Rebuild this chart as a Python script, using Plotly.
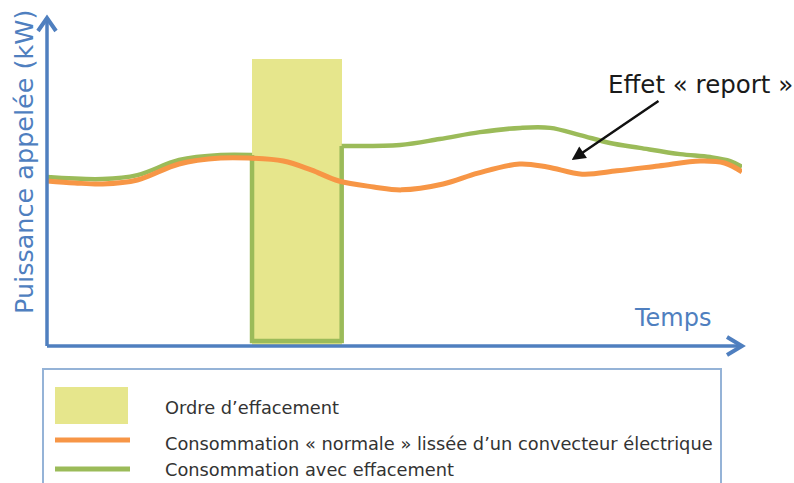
import plotly.graph_objects as go

# --- Données (temps et puissance en unités relatives 0-100) ---
temps_normal = [0, 4, 8, 13, 19, 25, 29, 34, 38, 42, 47, 51, 57, 62, 68, 72, 77, 82, 88, 94, 97.5, 100]
puissance_normale = [50.3, 49.7, 49.4, 50.6, 55.5, 57.3, 57.3, 56.4, 53.7, 50.3, 48.5, 47.6,
                     49.4, 52.7, 55.5, 54.6, 52.4, 53.4, 54.9, 56.4, 55.8, 53.1]

temps_avant = [0, 8, 13, 19, 25, 29.5]
puissance_avant = [51.5, 50.9, 52.1, 56.7, 58.2, 58.2]

effacement_debut = 29.5
effacement_fin = 42.4
effacement_hauteur = 87.5
puissance_effacee = 1.5
puissance_reprise = 61.0

temps_apres = [42.4, 50.8, 56.5, 62.3, 68.1, 72.4, 76.7, 81, 85.3, 91.1, 95.4, 98.3, 100]
puissance_apres = [61.0, 61.3, 63.1, 65.2, 66.5, 66.5, 64.3, 61.9, 60.4, 58.5, 57.6, 56.4, 54.6]

# point visé par la flèche « report » et départ de la flèche
report_cible = (75.5, 56.7)
report_origine = (88.2, 75.0)

legende_textes = [
    "Ordre d\u2019effacement",
    "Consommation \u00ab normale \u00bb liss\u00e9e d\u2019un convecteur \u00e9lectrique",
    "Consommation avec effacement",
]

# --- Styles ---
BLEU = "#4f7fbf"
ORANGE = "#f79646"
VERT = "#9bbb59"
JAUNE = "#e6e68c"
POLICE = "DejaVu Sans"

fig = go.Figure()

# Ordre d'effacement (rectangle jaune)
fig.add_trace(go.Bar(
    x=[(effacement_debut + effacement_fin) / 2], y=[effacement_hauteur],
    width=[effacement_fin - effacement_debut],
    marker=dict(color=JAUNE, line=dict(width=0)), showlegend=False, hoverinfo="skip",
))

# Consommation avec effacement
fig.add_trace(go.Scatter(
    x=temps_avant, y=puissance_avant, mode="lines",
    line=dict(color=VERT, width=4.5, shape="spline", smoothing=1), showlegend=False,
))
fig.add_trace(go.Scatter(
    x=[effacement_debut, effacement_debut, effacement_fin, effacement_fin],
    y=[puissance_avant[-1], puissance_effacee, puissance_effacee, puissance_reprise],
    mode="lines", line=dict(color=VERT, width=4.5), showlegend=False,
))
fig.add_trace(go.Scatter(
    x=temps_apres, y=puissance_apres, mode="lines",
    line=dict(color=VERT, width=4.5, shape="spline", smoothing=1), showlegend=False,
))

# Consommation « normale »
fig.add_trace(go.Scatter(
    x=temps_normal, y=puissance_normale, mode="lines",
    line=dict(color=ORANGE, width=5, shape="spline", smoothing=1), showlegend=False,
))

# --- Axes fléchés ---
W_PLOT, H_PLOT = 695, 328
shapes = [
    dict(type="line", xref="paper", yref="paper", x0=0, y0=0, x1=0, y1=1,
         line=dict(color=BLEU, width=3.5)),
    dict(type="line", xref="paper", yref="paper", x0=0, y0=0, x1=1, y1=0,
         line=dict(color=BLEU, width=3.5)),
    dict(type="path", xref="paper", yref="paper",
         path=f"M {-9 / W_PLOT},{1 - 13 / H_PLOT} L 0,1 L {9 / W_PLOT},{1 - 13 / H_PLOT}",
         line=dict(color=BLEU, width=4)),
    dict(type="path", xref="paper", yref="paper",
         path=f"M {1 - 15 / W_PLOT},{9 / H_PLOT} L 1,0 L {1 - 15 / W_PLOT},{-9 / H_PLOT}",
         line=dict(color=BLEU, width=4)),
]


def px_x(px):
    return (px - 47) / W_PLOT


def px_y(py):
    return (346 - py) / H_PLOT


# --- Cadre de légende ---
shapes += [
    dict(type="rect", xref="paper", yref="paper", x0=px_x(43), x1=px_x(721),
         y0=px_y(495), y1=px_y(369), line=dict(color="#95b3d7", width=2), fillcolor="white",
         layer="below"),
    dict(type="rect", xref="paper", yref="paper", x0=px_x(55), x1=px_x(128),
         y0=px_y(424), y1=px_y(387), line=dict(width=0), fillcolor=JAUNE),
    dict(type="line", xref="paper", yref="paper", x0=px_x(55), x1=px_x(130),
         y0=px_y(440), y1=px_y(440), line=dict(color=ORANGE, width=5)),
    dict(type="line", xref="paper", yref="paper", x0=px_x(55), x1=px_x(130),
         y0=px_y(469), y1=px_y(469), line=dict(color=VERT, width=5)),
]

annotations = [
    # titres des axes
    dict(text="Puissance appel\u00e9e (kW)", xref="paper", yref="paper",
         x=px_x(24), y=px_y(162), textangle=-90, showarrow=False,
         xanchor="center", yanchor="middle", font=dict(family=POLICE, size=25.5, color=BLEU)),
    dict(text="Temps", xref="paper", yref="paper", x=px_x(672), y=px_y(318),
         showarrow=False, xanchor="center", yanchor="middle",
         font=dict(family=POLICE, size=24, color=BLEU)),
    # effet report
    dict(x=report_cible[0], y=report_cible[1], ax=report_origine[0], ay=report_origine[1],
         xref="x", yref="y", axref="x", ayref="y", text="", showarrow=True,
         arrowhead=2, arrowsize=1.1, arrowwidth=2.5, arrowcolor="#111111"),
    dict(text="Effet \u00ab report \u00bb", xref="paper", yref="paper",
         x=px_x(700), y=px_y(85), showarrow=False, xanchor="center", yanchor="middle",
         font=dict(family=POLICE, size=24.5, color="#1a1a1a")),
]

for texte, py in zip(legende_textes, [407, 443, 469]):
    annotations.append(dict(
        text=texte, xref="paper", yref="paper", x=px_x(163), y=px_y(py),
        showarrow=False, xanchor="left", yanchor="middle",
        font=dict(family=POLICE, size=17.8, color="#333333"),
    ))

fig.update_layout(
    width=794, height=483,
    margin=dict(l=47, r=52, t=18, b=137, pad=0),
    paper_bgcolor="white", plot_bgcolor="white",
    xaxis=dict(range=[0, 100], visible=False, fixedrange=True),
    yaxis=dict(range=[0, 100], visible=False, fixedrange=True),
    bargap=0,
    shapes=shapes,
    annotations=annotations,
    showlegend=False,
)

fig.write_html("out.html")
